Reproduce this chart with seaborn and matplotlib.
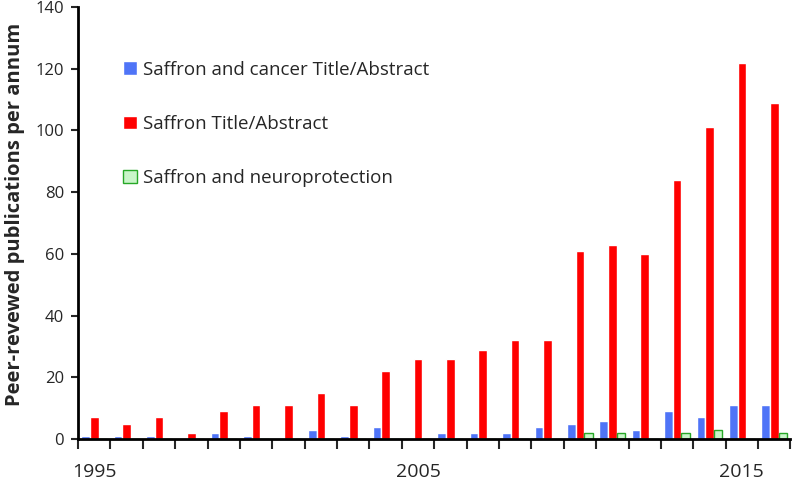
import pandas as pd
import seaborn as sns
import matplotlib.pyplot as plt
from matplotlib.patches import Patch
from matplotlib.ticker import FixedLocator

years = list(range(1995, 2017))
cancer = [1, 1, 1, 0, 2, 1, 0, 3, 1, 4, 0, 2, 2, 2, 4, 5, 6, 3, 9, 7, 11, 11]
saffron = [7, 5, 7, 2, 9, 11, 11, 15, 11, 22, 26, 26, 29, 32, 32, 61, 63, 60, 84, 101, 122, 109]
neuro = [0, 0, 0, 0, 0, 0, 0, 0, 0, 0, 0, 0, 0, 0, 0, 2, 2, 0, 2, 3, 0, 2]
series_names = ['Saffron and cancer Title/Abstract', 'Saffron Title/Abstract',
                'Saffron and neuroprotection']
year_labels = ['1995', '2005', '2015']

df = pd.DataFrame({'year': years * 3,
                   'count': cancer + saffron + neuro,
                   'series': [series_names[0]] * 22 + [series_names[1]] * 22 + [series_names[2]] * 22})

colors = ['#4f74f7', '#ff0000', '#c9f5c9']

sns.set_style('white')
plt.rcParams['font.family'] = ['Open Sans', 'DejaVu Sans']

fig, ax = plt.subplots(figsize=(7.92, 4.82), dpi=100)
fig.subplots_adjust(left=0.0985, right=0.998, bottom=0.089, top=0.9855)
sns.barplot(data=df, x='year', y='count', hue='series', palette=colors,
            width=0.8, saturation=1, ax=ax, legend=False)

# green bars get an outline
for bar in ax.containers[2]:
    bar.set_edgecolor('#27a827')
    bar.set_linewidth(1)

ax.set_xlim(-0.5, 21.5)
ax.set_ylim(0, 140)
ax.set_yticks(range(0, 141, 20))
ax.tick_params(axis='y', direction='out', length=5, width=1.5, labelsize=12, left=True, pad=5)

# ticks at group boundaries, labels only every ten years
ax.xaxis.set_minor_locator(FixedLocator([i - 0.5 for i in range(23)]))
ax.set_xticks([0, 10, 20])
ax.set_xticklabels(year_labels)
ax.tick_params(axis='x', which='major', length=0, labelsize=14, pad=17)
ax.tick_params(axis='x', which='minor', direction='out', length=7, width=1.5, bottom=True)

for side in ['top', 'right']:
    ax.spines[side].set_visible(False)
for side in ['left', 'bottom']:
    ax.spines[side].set_linewidth(2)
    ax.spines[side].set_color('black')

ax.set_xlabel('')
ax.set_ylabel('Peer-revewed publications per annum', fontsize=14.5, fontweight='bold')
ax.yaxis.set_label_coords(-0.074, 0.519)

handles = [Patch(facecolor=colors[0]), Patch(facecolor=colors[1]),
           Patch(facecolor=colors[2], edgecolor='#27a827')]
ax.legend(handles, series_names, loc='upper left', bbox_to_anchor=(0.04, 0.915),
          frameon=False, fontsize=13.5, labelspacing=1.93, handlelength=0.7,
          handleheight=0.7, handletextpad=0.35)

plt.savefig('out.png', dpi=100)
